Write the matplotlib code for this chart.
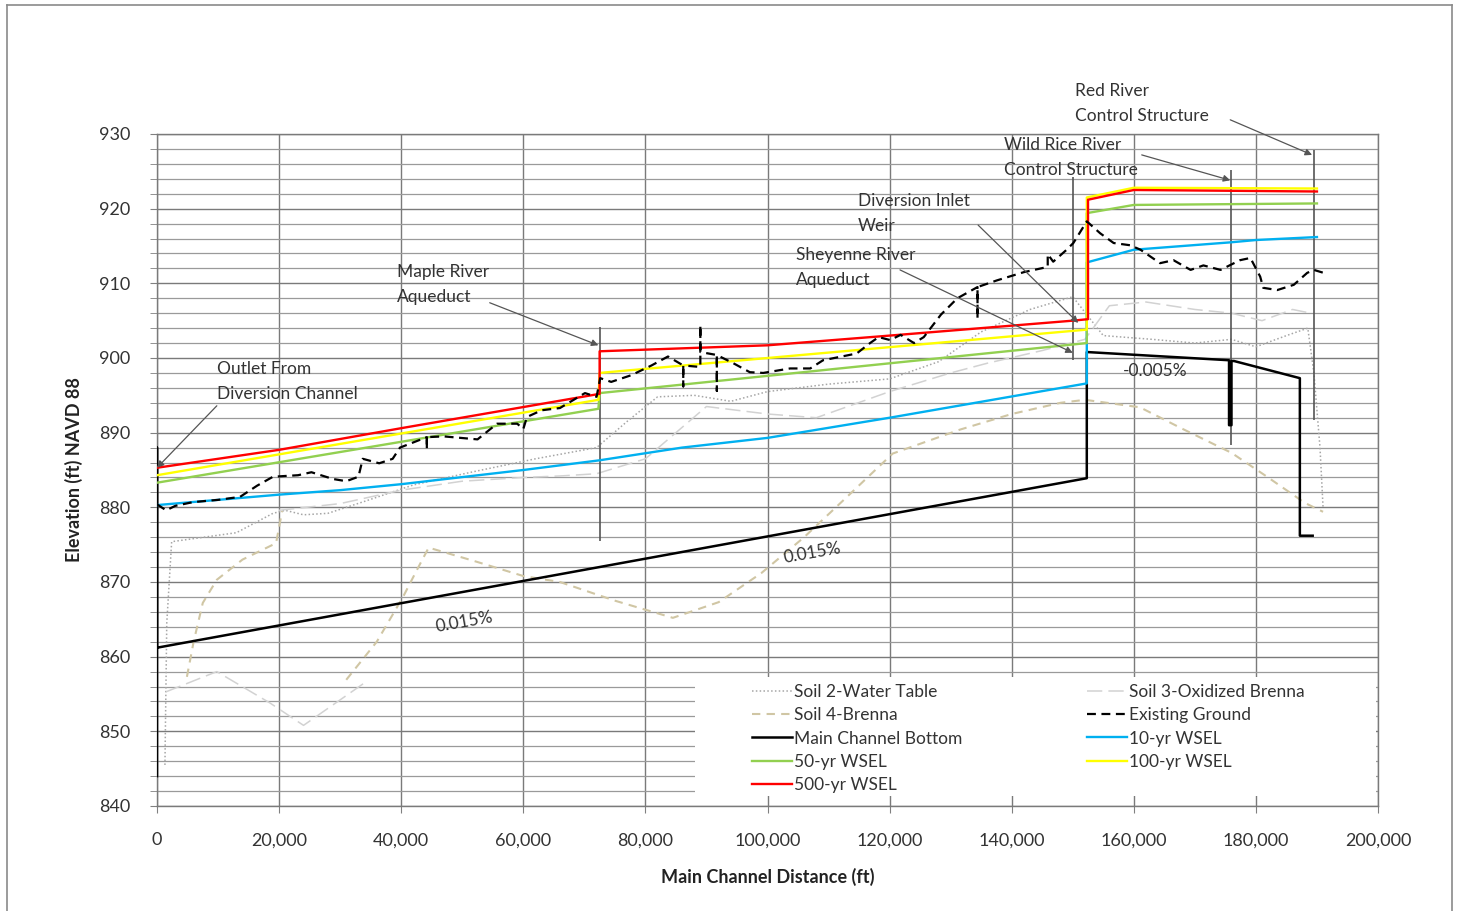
import numpy as np
import matplotlib
matplotlib.use("Agg")
import matplotlib.pyplot as plt
from matplotlib.lines import Line2D
from matplotlib.patches import Rectangle

plt.rcParams['font.family'] = ['Lato', 'DejaVu Sans']

nan = np.nan

# ---------------- data ----------------
x_ticks = [0, 20000, 40000, 60000, 80000, 100000, 120000, 140000, 160000, 180000, 200000]
x_ticklabels = ["0", "20,000", "40,000", "60,000", "80,000", "100,000", "120,000",
                "140,000", "160,000", "180,000", "200,000"]
y_ticks = [840, 850, 860, 870, 880, 890, 900, 910, 920, 930]

# Main Channel Bottom
mcb_x = [0, 0, 0, 152300, 152300, 175600, 175600, 176000, 176000, 176400, 187200, 187200, 189300]
mcb_y = [844.0, 888.0, 861.2, 883.9, 900.8, 899.7, 891.0, 891.0, 899.6, 899.6, 897.3, 876.2, 876.2]

# 10-yr WSEL
w10_x = [0, 10000, 20000, 30000, 40000, 60000, 72500, 86000, 100000, 120000, 152300, 152300, 160000, 176000, 180000, 190000]
w10_y = [880.3, 881.0, 881.7, 882.3, 883.1, 885.0, 886.3, 888.0, 889.3, 892.0, 896.6, 912.8, 914.5, 915.5, 915.8, 916.2]

# 50-yr WSEL
w50_x = [0, 72300, 72500, 152300, 152300, 160000, 190000]
w50_y = [883.3, 893.2, 895.3, 902.0, 919.4, 920.5, 920.7]

# 100-yr WSEL
w100_x = [0, 72300, 72500, 152300, 152300, 160000, 190000]
w100_y = [884.3, 894.4, 898.0, 903.8, 921.5, 922.8, 922.7]

# 500-yr WSEL
w500_x = [0, 20000, 40000, 72500, 72500, 100000, 120000, 150000, 152500, 152500, 160000, 190000]
w500_y = [885.3, 887.7, 890.6, 895.2, 900.9, 901.7, 903.0, 905.0, 905.2, 921.2, 922.5, 922.3]

# Existing Ground
eg_x = [0, 1500, 3000, 5900, 10000, 13600, 16400, 19000, 23100, 25300, 28800, 31000, 33000, 33700,
        36400, 38600, 39800, 44200, 44200, 44200, 47000, 52500, 55700, 59000, 60000, 60600, 63000,
        66000, 70100, 72000, 72600, 74400, 77700, 81000, 83700, 86200, 86200, 86200, 89000, 89000,
        89000, 91700, 91700, 91700, 94400, 97100, 99300, 103700, 107000, 109100, 114600, 116800,
        118200, 120100, 121800, 124000, 125600, 128400, 131100, 134400, 134400, 134400, 137600,
        142000, 145900, 145900, 146800, 149000, 150100, 152300, 154500, 156700, 159400, 161100,
        164300, 166500, 169300, 171400, 174200, 177400, 179100, 180700, 181200, 183500, 186200,
        188400, 189500, 191100]
eg_y = [880.4, 879.6, 880.2, 880.7, 881.0, 881.4, 882.9, 884.1, 884.3, 884.7, 883.8, 883.5, 884.1, 886.5,
        885.9, 886.5, 888.0, 889.4, 887.8, 889.4, 889.5, 889.1, 891.2, 891.2, 890.5, 892.1, 893.0,
        893.3, 895.3, 894.8, 897.3, 896.8, 897.7, 899.0, 900.2, 899.0, 896.2, 899.0, 898.8, 904.4,
        900.8, 900.4, 895.6, 900.4, 899.3, 898.1, 898.0, 898.6, 898.6, 899.7, 900.6, 902.0,
        902.8, 902.4, 903.1, 902.0, 902.8, 905.8, 908.0, 909.5, 905.3, 909.5, 910.4,
        911.5, 912.2, 913.9, 912.9, 914.5, 915.4, 918.3, 916.7, 915.4, 915.1, 914.5,
        912.7, 913.1, 911.8, 912.4, 911.8, 913.1, 913.4, 910.9, 909.4, 909.1, 909.8,
        911.4, 911.8, 911.4]

# Soil 2-Water Table
soil2_x = [1300, 1600, 2400, 13000, 19000, 21000, 24000, 28000, 34000, 42000, 52000, 62000, 72000,
           77000, 82000, 88000, 94000, 100000, 110000, 120000, 128000, 135000, 143000, 150000, 155000,
           163000, 170000, 176000, 180000, 185000, 188500, 189500, 190500, 191000]
soil2_y = [845.5, 864.5, 875.4, 876.6, 879.2, 879.6, 879.0, 879.2, 880.8, 883.0, 884.8, 886.5, 888.0,
           891.5, 894.8, 895.0, 894.2, 895.5, 896.5, 897.2, 899.5, 903.5, 906.5, 908.2, 903.0,
           902.5, 902.0, 902.5, 901.5, 903.0, 904.0, 898.0, 888.0, 880.0]

# Soil 3-Oxidized Brenna
soil3_x = [1500, 9800, 18500, 24000, 30500, 34000, nan, 20000, 30000, 40000, 50000, 60000, 66000,
           72000, 80000, 90000, 100000, 108000, 120000, 130000, 136000, 145000, 152000, 156000,
           162000, 170000, 176000, 181000, 186000, 189000]
soil3_y = [855.3, 858.0, 853.8, 850.8, 854.5, 856.5, nan, 879.6, 880.5, 882.3, 883.5, 884.0, 884.2,
           884.5, 886.5, 893.5, 892.5, 892.0, 895.5, 898.0, 899.3, 901.0, 902.5, 907.0,
           907.5, 906.5, 906.0, 905.0, 906.5, 906.0]

# Soil 4-Brenna
soil4_x = [4900, 6000, 7500, 9800, 14000, 19500, 20500, nan, 31000, 36000, 40300, 42500, 44500, 52000,
           60000, 66000, 75000, 84500, 92000, 99000, 106000, 112500, 120500, 131500, 140000, 148000,
           152000, 161000, 168000, 176000, 182000, 188000, 191000]
soil4_y = [857.3, 862.0, 867.2, 870.3, 873.0, 875.2, 879.5, nan, 856.9, 862.0, 868.0, 871.5, 874.6, 872.8,
           870.8, 870.0, 867.5, 865.2, 867.3, 871.2, 876.0, 881.0, 887.2, 890.4, 892.5, 894.0,
           894.4, 893.4, 890.5, 887.3, 884.0, 880.6, 879.4]

# Structures (station, bottom, top)
struct_x = [72500, 150000, 176000, 189500]
struct_bottom = [875.5, 899.7, 888.3, 891.7]
struct_top = [904.2, 924.2, 925.2, 927.9]

# Annotations: text, text position, arrow start, arrow end
ann_text = ["Outlet From\nDiversion Channel", "Maple River\nAqueduct", "Diversion Inlet\nWeir",
            "Sheyenne River\nAqueduct", "Wild Rice River\nControl Structure",
            "Red River\nControl Structure"]
ann_text_xy = [(9800, 896.8), (39300, 909.8), (114800, 919.3), (104700, 912.1), (138700, 926.8),
               (150400, 934.1)]
ann_start = [(9800, 893.6), (54500, 907.4), (134500, 917.8), (121700, 911.8), (161300, 927.2),
             (175800, 931.9)]
ann_end = [(0, 885.3), (72300, 901.7), (150900, 904.7), (150000, 900.7), (175800, 923.8),
           (189200, 927.2)]

slope_text = ["0.015%", "0.015%", "-0.005%"]
slope_xy = [(50400, 864.6), (107300, 873.9), (163500, 898.3)]
slope_rot = [10, 10, 0]

# ---------------- figure ----------------
W, H = 1458, 911
fig = plt.figure(figsize=(W / 100, H / 100), dpi=100)
ax = fig.add_axes([157 / W, 1 - 806 / H, (1378 - 157) / W, (806 - 134) / H])

ax.set_xlim(0, 200000)
ax.set_ylim(840, 930)
ax.set_xticks(x_ticks)
ax.set_xticklabels(x_ticklabels)
ax.set_yticks(y_ticks)
ax.set_yticks(np.arange(840, 931, 2), minor=True)
ax.tick_params(axis='both', which='both', direction='out', color='#808080', length=5,
               labelsize=13, labelcolor='#333333')
ax.tick_params(axis='x', pad=14)
ax.tick_params(axis='y', pad=14)
ax.grid(True, which='major', color='#7a7a7a', lw=1.0)
ax.grid(True, which='minor', axis='y', color='#9a9a9a', lw=0.9)
ax.set_axisbelow(True)
for s in ax.spines.values():
    s.set_color('#7a7a7a')
    s.set_linewidth(1.0)

ax.set_xlabel("Main Channel Distance (ft)", fontsize=13, fontweight='bold', color='#222222', labelpad=14)
ax.set_ylabel("Elevation (ft) NAVD 88", fontsize=13, fontweight='bold', color='#222222', labelpad=12)

# white legend area covering gridlines
ax.add_patch(Rectangle((0.4406, 0.0149), 0.5577, 0.177, transform=ax.transAxes,
                       facecolor='white', edgecolor='none', zorder=1.5))

l_s2, = ax.plot(soil2_x, soil2_y, color='#a6a6a6', lw=1.1, ls=(0, (1, 1.5)), zorder=2,
                label="Soil 2-Water Table")
l_s3, = ax.plot(soil3_x, soil3_y, color='#d2d2d2', lw=1.1, ls=(0, (10, 4)), zorder=2,
                label="Soil 3-Oxidized Brenna")
l_s4, = ax.plot(soil4_x, soil4_y, color='#d0c6a4', lw=1.5, ls=(0, (4, 3)), zorder=2,
                label="Soil 4-Brenna")

ax.vlines(struct_x, struct_bottom, struct_top, color='#555555', lw=1.2, zorder=3)

l_mcb, = ax.plot(mcb_x, mcb_y, color='black', lw=1.8, zorder=4, label="Main Channel Bottom")
l_w10, = ax.plot(w10_x, w10_y, color='#00b0f0', lw=1.7, zorder=4, label="10-yr WSEL")
l_w50, = ax.plot(w50_x, w50_y, color='#92d050', lw=1.7, zorder=4, label="50-yr WSEL")
l_w100, = ax.plot(w100_x, w100_y, color='#ffff00', lw=1.7, zorder=4, label="100-yr WSEL")
l_w500, = ax.plot(w500_x, w500_y, color='#ff0000', lw=1.7, zorder=4.5, label="500-yr WSEL")
l_eg, = ax.plot(eg_x, eg_y, color='black', lw=1.6, ls=(0, (4, 2.5)), zorder=5, label="Existing Ground")

for t, txy, st, en in zip(ann_text, ann_text_xy, ann_start, ann_end):
    ax.text(txy[0], txy[1], t, fontsize=12.5, color='#333333', ha='left', va='center',
            linespacing=1.7, zorder=6)
    ax.annotate("", xy=en, xytext=st, annotation_clip=False,
                arrowprops=dict(arrowstyle='-|>', color='#555555', lw=0.9,
                                mutation_scale=10, shrinkA=0, shrinkB=0), zorder=6)

for t, xy, r in zip(slope_text, slope_xy, slope_rot):
    ax.text(xy[0], xy[1], t, fontsize=12.5, color='#333333', ha='center', va='center',
            rotation=r, zorder=6)

handles = [l_s2, l_s4, l_mcb, l_w50, l_w500, l_s3, l_eg, l_w10, l_w100]
leg = ax.legend(handles=handles, labels=[h.get_label() for h in handles], ncol=2,
                loc='upper left', bbox_to_anchor=(0.4816, 0.192), frameon=False,
                fontsize=12.5, handlelength=2.3, handletextpad=0.1, labelspacing=0.42,
                columnspacing=7.2, borderaxespad=0)
for txt in leg.get_texts():
    txt.set_color('#333333')
leg.set_zorder(7)

# outer frame
for coords in [([7 / W, 7 / W], [0, 1 - 5 / H]), ([7 / W, 1452 / W], [1 - 5 / H, 1 - 5 / H]),
               ([1452 / W, 1452 / W], [1 - 5 / H, 0])]:
    fig.add_artist(Line2D(coords[0], coords[1], color='#8a8a8a', lw=1.2))

fig.savefig("out.png", dpi=100, facecolor='white')
